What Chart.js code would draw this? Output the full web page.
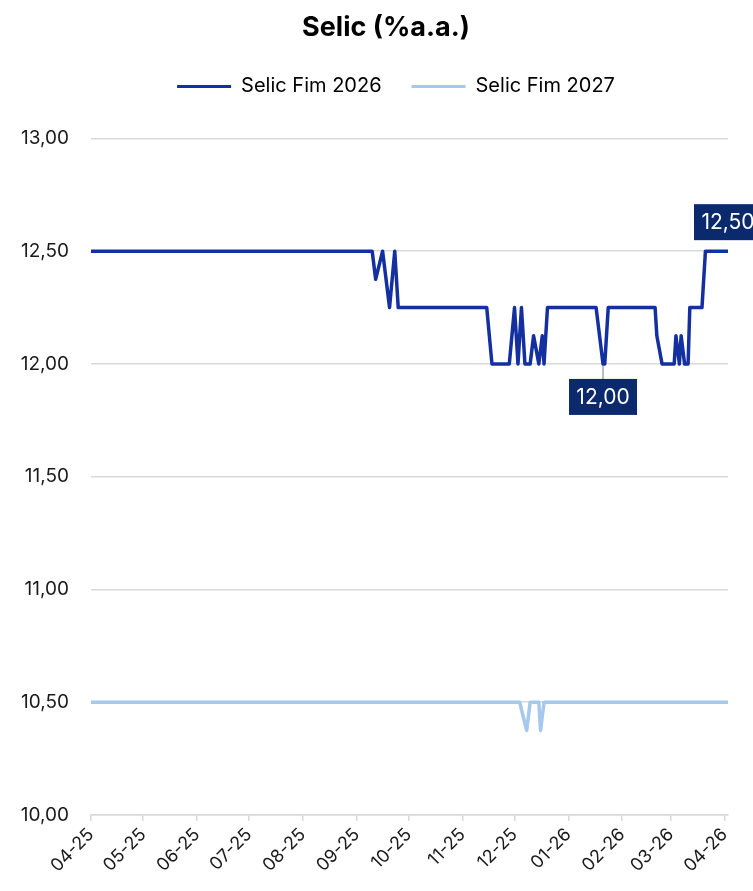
<!DOCTYPE html>
<html>
<head>
<meta charset="utf-8">
<script src="https://cdn.jsdelivr.net/npm/chart.js@4.4.0/dist/chart.umd.min.js"></script>
<style>
  html, body { margin: 0; padding: 0; background: #fff; }
  #wrap { width: 753px; height: 891px; }
</style>
</head>
<body>
<div id="wrap"><canvas id="c" width="753" height="891"></canvas></div>
<script>
// axis range and month ticks
const startDate = '2025-04-01';
const endDate = '2026-04-03';
const tickDates = ['2025-04-01', '2025-05-01', '2025-06-01', '2025-07-01', '2025-08-01', '2025-09-01',
  '2025-10-01', '2025-11-01', '2025-12-01', '2026-01-01', '2026-02-01', '2026-03-01', '2026-04-01'];
const tickLabels = ['04-25', '05-25', '06-25', '07-25', '08-25', '09-25',
  '10-25', '11-25', '12-25', '01-26', '02-26', '03-26', '04-26'];

// Selic Fim 2026 (change points)
const fim2026Dates = ['2025-04-01', '2025-09-10', '2025-09-12', '2025-09-16', '2025-09-20', '2025-09-23',
  '2025-09-25', '2025-11-15', '2025-11-18', '2025-11-28', '2025-12-01', '2025-12-03', '2025-12-05',
  '2025-12-07', '2025-12-10', '2025-12-12', '2025-12-15', '2025-12-17', '2025-12-18', '2025-12-20',
  '2026-01-17', '2026-01-21', '2026-01-22', '2026-01-24', '2026-02-20', '2026-02-21', '2026-02-24',
  '2026-03-03', '2026-03-04', '2026-03-06', '2026-03-07', '2026-03-09', '2026-03-11', '2026-03-12',
  '2026-03-19', '2026-03-21', '2026-04-03'];
const fim2026Values = [12.5, 12.5, 12.375, 12.5, 12.25, 12.5,
  12.25, 12.25, 12.0, 12.0, 12.25, 12.0, 12.25,
  12.0, 12.0, 12.125, 12.0, 12.125, 12.0, 12.25,
  12.25, 12.0, 12.0, 12.25, 12.25, 12.125, 12.0,
  12.0, 12.125, 12.0, 12.125, 12.0, 12.0, 12.25,
  12.25, 12.5, 12.5];

// Selic Fim 2027
const fim2027Dates = ['2025-04-01', '2025-12-04', '2025-12-08', '2025-12-10', '2025-12-15', '2025-12-16',
  '2025-12-18', '2026-04-03'];
const fim2027Values = [10.5, 10.5, 10.375, 10.5, 10.5, 10.375, 10.5, 10.5];

// labelled points on the 2026 line
const calloutDates = ['2026-01-21', '2026-04-03'];
const calloutValues = [12.0, 12.5];

const day = s => (Date.parse(s) - Date.parse(startDate)) / 86400000;
const fmt = v => v.toFixed(2).replace('.', ',');
const toPoints = (dates, values) => dates.map((d, i) => ({ x: day(d), y: values[i] }));

const FONT = 'Inter';

const callouts = {
  id: 'callouts',
  afterDatasetsDraw(chart) {
    const { ctx, scales: { x, y } } = chart;
    ctx.save();
    calloutDates.forEach((d, i) => {
      const px = x.getPixelForValue(day(d));
      const py = y.getPixelForValue(calloutValues[i]);
      const above = i === calloutDates.length - 1;
      const w = 68, h = 36;
      const cy = above ? py - 29 : py + 33;
      if (!above) {
        ctx.strokeStyle = '#a6a6a6';
        ctx.lineWidth = 1.5;
        ctx.beginPath();
        ctx.moveTo(px, py + 2);
        ctx.lineTo(px, cy - h / 2);
        ctx.stroke();
      }
      ctx.fillStyle = '#0b2a6d';
      ctx.fillRect(px - w / 2, cy - h / 2, w, h);
      ctx.fillStyle = '#fff';
      ctx.font = '21px ' + FONT;
      ctx.textAlign = 'center';
      ctx.textBaseline = 'middle';
      ctx.fillText(fmt(calloutValues[i]), px, cy + 1);
    });
    ctx.restore();
  }
};

// extra room under the legend, and title/legend nudged right like the original
const headerTweak = {
  id: 'headerTweak',
  beforeInit(chart) {
    const fit = chart.legend.fit;
    chart.legend.fit = function () {
      fit.bind(chart.legend)();
      this.height += 32;
    };
  },
  afterLayout(chart) {
    chart.titleBlock.left += 22;
    chart.titleBlock.right += 22;
    chart.legend.left += 32;
    chart.legend.right += 32;
  }
};

new Chart(document.getElementById('c'), {
  type: 'line',
  data: {
    datasets: [
      {
        label: 'Selic Fim 2026',
        data: toPoints(fim2026Dates, fim2026Values),
        borderColor: '#1430a0',
        backgroundColor: '#1430a0',
        borderWidth: 3.5,
        pointRadius: 0,
        tension: 0,
        borderJoinStyle: 'round',
        borderCapStyle: 'round'
      },
      {
        label: 'Selic Fim 2027',
        data: toPoints(fim2027Dates, fim2027Values),
        borderColor: '#a5c8ec',
        backgroundColor: '#a5c8ec',
        borderWidth: 3.5,
        pointRadius: 0,
        tension: 0,
        borderJoinStyle: 'round',
        borderCapStyle: 'round'
      }
    ]
  },
  options: {
    responsive: false,
    animation: false,
    layout: { padding: { left: 0, right: 25, top: 0, bottom: 0 } },
    plugins: {
      title: {
        display: true,
        text: 'Selic (%a.a.)',
        color: '#000',
        font: { family: FONT, size: 27, weight: 'bold' },
        padding: { top: 12, bottom: 2 }
      },
      legend: {
        display: true,
        labels: {
          color: '#000',
          font: { family: FONT, size: 20 },
          boxWidth: 54,
          boxHeight: 3,
          padding: 30,
          generateLabels(chart) {
            return Chart.defaults.plugins.legend.labels.generateLabels(chart).map(l => {
              l.lineWidth = 0;
              return l;
            });
          }
        }
      },
      tooltip: { enabled: false }
    },
    scales: {
      x: {
        type: 'linear',
        min: day(startDate),
        max: day(endDate),
        afterBuildTicks(scale) {
          scale.ticks = tickDates.map(d => ({ value: day(d) }));
        },
        afterFit(scale) { scale.height = 76; },
        ticks: {
          autoSkip: false,
          minRotation: 45,
          maxRotation: 45,
          color: '#1a1a1a',
          font: { family: FONT, size: 18 },
          padding: 3,
          callback(value) {
            const i = tickDates.findIndex(d => day(d) === value);
            return i >= 0 ? tickLabels[i] : '';
          }
        },
        grid: { drawOnChartArea: false, drawTicks: true, tickLength: 6, color: '#d9d9d9', lineWidth: 1.5 },
        border: { display: true, color: '#d9d9d9', width: 1.5 }
      },
      y: {
        min: 10,
        max: 13,
        afterFit(scale) { scale.width = 91; },
        ticks: {
          stepSize: 0.5,
          color: '#1a1a1a',
          font: { family: FONT, size: 19 },
          padding: 22,
          callback: v => fmt(v)
        },
        grid: { drawTicks: false, color: '#d9d9d9', lineWidth: 1.5 },
        border: { display: false }
      }
    }
  },
  plugins: [callouts, headerTweak]
});
</script>
</body>
</html>
